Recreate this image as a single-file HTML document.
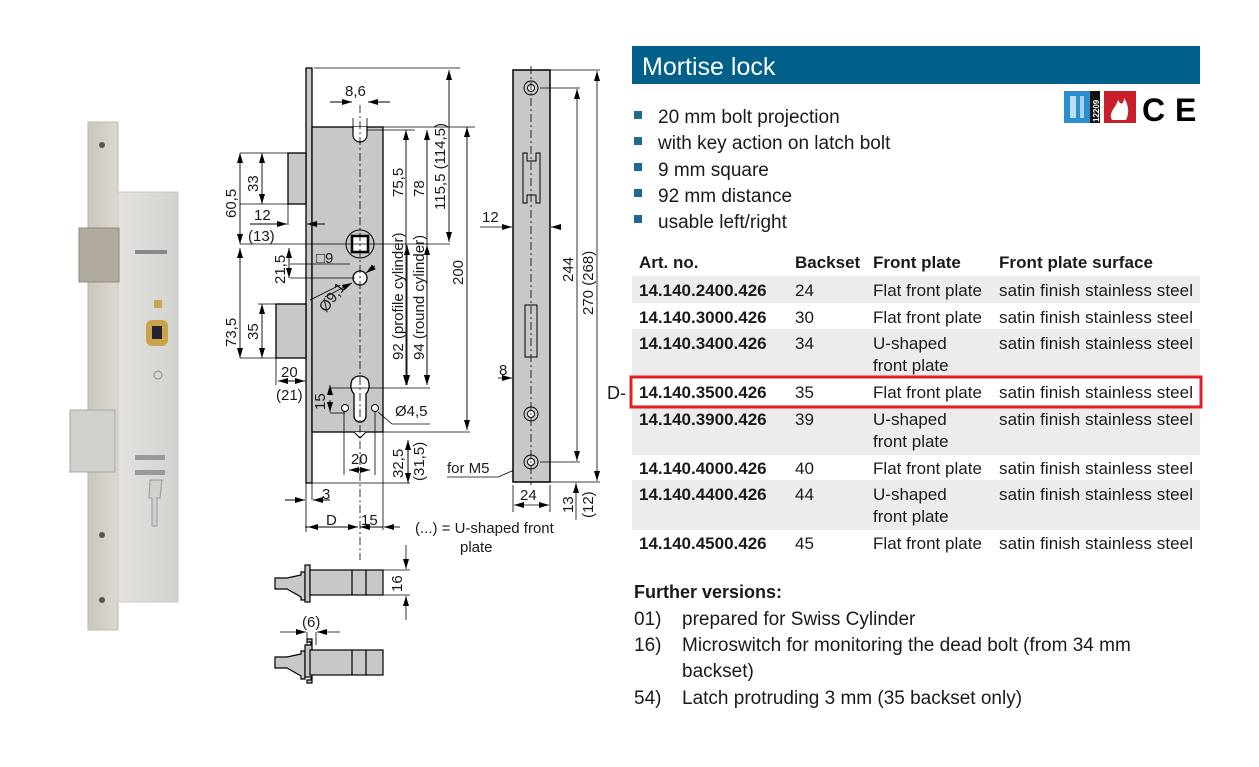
<!DOCTYPE html>
<html><head><meta charset="utf-8"><style>
html,body{margin:0;padding:0;background:#fff;}
svg{display:block;}
text{font-family:"Liberation Sans",sans-serif;fill:#1a1a1a;}
.d{font-size:15px;fill:#111;}
.t{font-size:17px;}
.b{font-weight:bold;}
</style></head><body>
<svg width="1259" height="767" viewBox="0 0 1259 767" xmlns="http://www.w3.org/2000/svg">
<defs>
<marker id="a" viewBox="0 0 10 6" refX="10" refY="3" markerWidth="10" markerHeight="6" orient="auto-start-reverse" markerUnits="userSpaceOnUse"><path d="M0,0L10,3L0,6z" fill="#000"/></marker>
<linearGradient id="pl" x1="0" x2="1"><stop offset="0" stop-color="#c9c6bd"/><stop offset="1" stop-color="#ddd9d0"/></linearGradient>
<linearGradient id="bd" x1="0" x2="1"><stop offset="0" stop-color="#e2e2df"/><stop offset="1" stop-color="#d2d2ce"/></linearGradient>
</defs>
<!-- PHOTO -->
<rect x="88" y="122" width="30" height="508" fill="url(#pl)" stroke="#bcb8ae"/>
<rect x="118" y="192" width="60" height="410" fill="url(#bd)" stroke="#c8c8c4"/>
<rect x="79" y="228" width="40" height="54" fill="#b0ab9e" stroke="#8f8b80"/>
<rect x="70" y="410" width="45" height="62" fill="#d0d0cc" stroke="#a8a8a2"/>
<circle cx="102" cy="145" r="3" fill="#555"/><circle cx="102" cy="535" r="3" fill="#555"/><circle cx="102" cy="600" r="3" fill="#555"/>
<rect x="146" y="320" width="22" height="26" rx="6" fill="#c9a24a"/><rect x="152" y="326" width="10" height="13" fill="#223"/>
<rect x="154" y="300" width="8" height="8" fill="#c9a24a"/>
<rect x="135" y="250" width="32" height="4" fill="#888"/>
<rect x="135" y="455" width="30" height="5" fill="#999"/><rect x="135" y="470" width="30" height="5" fill="#999"/>
<path d="M150,480h12l-2,18h-3v28h-5v-28h-3z" fill="#d0d0cc" stroke="#999"/>
<circle cx="158" cy="375" r="4" fill="none" stroke="#888"/>

<!-- MAIN DRAWING -->
<g stroke="#000" stroke-width="1.3" fill="#c8c8c8">
<rect x="306" y="68" width="6" height="415"/>
<rect x="312" y="127" width="71" height="305"/>
<rect x="288" y="153" width="18" height="51"/>
<rect x="276" y="304" width="30" height="54"/>
</g>
<path d="M353,127v8a7,7 0 0 0 14,0v-8" fill="#fff" stroke="#000" stroke-width="1.2"/>
<circle cx="360" cy="244" r="14" fill="none" stroke="#000"/>
<rect x="352" y="236" width="16" height="16" fill="#fff" stroke="#000" stroke-width="2.5"/>
<circle cx="360" cy="278" r="7" fill="#fff" stroke="#000" stroke-width="1.3"/>
<path d="M352,380a10,10 0 0 1 16,0q3,8 -2,14v22a6,6 0 0 1 -12,0v-22q-5,-6 -2,-14z" fill="#fff" stroke="#000" stroke-width="1.3"/>
<circle cx="345" cy="408" r="3.5" fill="#fff" stroke="#000"/><circle cx="375" cy="408" r="3.5" fill="#fff" stroke="#000"/>
<path d="M354,432l6,6l6,-6" fill="#fff" stroke="#000"/>
<line x1="360" y1="105" x2="360" y2="560" stroke="#000" stroke-dasharray="8,3,2,3" stroke-width="0.8"/>
<g stroke="#000" stroke-width="0.8" fill="none">
<line x1="314" y1="68" x2="460" y2="68"/><line x1="383" y1="127" x2="475" y2="127"/>
<line x1="367" y1="130" x2="415" y2="130"/><line x1="240" y1="153" x2="288" y2="153"/>
<line x1="240" y1="244" x2="450" y2="244"/><line x1="240" y1="358" x2="306" y2="358"/><line x1="258" y1="304" x2="276" y2="304"/>
<line x1="290" y1="278" x2="355" y2="278"/><line x1="240" y1="204" x2="288" y2="204"/>
<line x1="330" y1="388" x2="430" y2="388"/><line x1="330" y1="413" x2="345" y2="413"/>
<line x1="383" y1="432" x2="470" y2="432"/><line x1="312" y1="483" x2="410" y2="483"/>
<line x1="288" y1="204" x2="288" y2="225"/><line x1="276" y1="358" x2="276" y2="385"/>
<line x1="306" y1="483" x2="306" y2="532"/><line x1="312" y1="483" x2="312" y2="500"/>
<line x1="344" y1="412" x2="344" y2="475"/><line x1="375" y1="412" x2="375" y2="475"/>
<line x1="383" y1="432" x2="383" y2="530"/><line x1="353" y1="118" x2="353" y2="127"/><line x1="367" y1="118" x2="367" y2="127"/>
<line x1="290" y1="264" x2="350" y2="264"/>
<line x1="378" y1="412" x2="392" y2="424"/><line x1="392" y1="424" x2="430" y2="424"/>
<line x1="310" y1="300" x2="340" y2="285"/>
</g>
<g stroke="#000" stroke-width="0.9" marker-start="url(#a)" marker-end="url(#a)">
<line x1="240" y1="153" x2="240" y2="244"/><line x1="262" y1="153" x2="262" y2="204"/>
<line x1="240" y1="248" x2="240" y2="358"/><line x1="262" y1="304" x2="262" y2="358"/>
<line x1="289" y1="248" x2="289" y2="278"/>
<line x1="406" y1="130" x2="406" y2="385"/><line x1="427" y1="130" x2="427" y2="385"/>
<line x1="449" y1="70" x2="449" y2="242"/><line x1="467" y1="127" x2="467" y2="430"/>
<line x1="407" y1="245" x2="407" y2="385"/><line x1="427" y1="245" x2="427" y2="385"/>
<line x1="349" y1="470" x2="370" y2="470"/><line x1="278" y1="381" x2="305" y2="381"/>
<line x1="308" y1="527" x2="358" y2="527"/>
</g>
<g stroke="#000" stroke-width="0.9">
<line x1="330" y1="102" x2="352" y2="102" marker-end="url(#a)"/><line x1="390" y1="102" x2="368" y2="102" marker-end="url(#a)"/>
<line x1="250" y1="224" x2="287" y2="224" marker-end="url(#a)"/><line x1="325" y1="224" x2="307" y2="224" marker-end="url(#a)"/>
<line x1="285" y1="500" x2="305" y2="500" marker-end="url(#a)"/><line x1="330" y1="500" x2="313" y2="500" marker-end="url(#a)"/>
<line x1="400" y1="527" x2="384" y2="527" marker-end="url(#a)"/>
<line x1="330" y1="527" x2="305" y2="527"/>
<line x1="330" y1="395" x2="330" y2="385" marker-end="url(#a)"/><line x1="330" y1="400" x2="330" y2="412" marker-end="url(#a)"/>
<line x1="408" y1="483" x2="408" y2="440" marker-end="url(#a)"/><line x1="408" y1="440" x2="408" y2="483" marker-end="url(#a)"/>
<line x1="360" y1="527" x2="383" y2="527" marker-start="url(#a)"/>
<line x1="325" y1="297" x2="352" y2="283" marker-end="url(#a)"/><line x1="375" y1="266" x2="366" y2="273" marker-end="url(#a)"/>
</g>
<g class="d">
<text x="345" y="96">8,6</text>
<text transform="translate(236,218) rotate(-90)">60,5</text>
<text transform="translate(258,192) rotate(-90)">33</text>
<text x="254" y="220">12</text><text x="248" y="241">(13)</text>
<text x="316" y="263">□9</text>
<text transform="translate(285,284) rotate(-90)">21,5</text>
<text transform="translate(236,347) rotate(-90)">73,5</text>
<text transform="translate(258,340) rotate(-90)">35</text>
<text transform="translate(326,313) rotate(-52)">Ø9,1</text>
<text x="281" y="377">20</text><text x="276" y="400">(21)</text>
<text transform="translate(325,410) rotate(-90)">15</text>
<text x="395" y="416">Ø4,5</text>
<text x="351" y="464">20</text>
<text transform="translate(403,478) rotate(-90)">32,5</text>
<text transform="translate(424,481) rotate(-90)">(31,5)</text>
<text x="322" y="499">3</text>
<text x="326" y="525">D</text><text x="361" y="525">15</text>
<text x="415" y="533">(...) = U-shaped front</text>
<text x="460" y="552">plate</text>
<text transform="translate(403,360) rotate(-90)">92  (profile cylinder)</text>
<text transform="translate(424,360) rotate(-90)">94  (round cylinder)</text>
<text transform="translate(403,197) rotate(-90)">75,5</text>
<text transform="translate(424,197) rotate(-90)">78</text>
<text transform="translate(445,210) rotate(-90)">115,5 (114,5)</text>
<text transform="translate(463,285) rotate(-90)">200</text>
<text x="447" y="473">for M5</text>
</g>
<line x1="447" y1="477" x2="498" y2="477" stroke="#000" stroke-width="0.8"/><line x1="498" y1="477" x2="526" y2="465" stroke="#000" stroke-width="0.8"/>

<!-- SIDE PLATE -->
<rect x="513" y="70" width="37" height="412" fill="#c8c8c8" stroke="#000" stroke-width="1.5"/>
<g fill="none" stroke="#000" stroke-width="1">
<path d="M523,153v50h4v-8h9v8h4v-50h-4v8h-9v-8z"/>
<path d="M525,305v52h12v-52z"/>
<circle cx="531" cy="88" r="7"/><circle cx="531" cy="88" r="3.5" fill="#fff"/>
<circle cx="531" cy="414" r="7"/><circle cx="531" cy="414" r="3.5" fill="#fff"/>
<circle cx="531" cy="462" r="7"/><circle cx="531" cy="462" r="3.5" fill="#fff"/>
</g>
<line x1="531" y1="66" x2="531" y2="485" stroke="#000" stroke-dasharray="8,3,2,3" stroke-width="0.8"/>
<g stroke="#000" stroke-width="0.8">
<line x1="550" y1="70" x2="600" y2="70"/><line x1="540" y1="88" x2="580" y2="88"/><line x1="540" y1="462" x2="580" y2="462"/><line x1="550" y1="482" x2="600" y2="482"/>
<line x1="513" y1="485" x2="513" y2="512"/><line x1="550" y1="485" x2="550" y2="512"/>
<line x1="480" y1="227" x2="512" y2="227" marker-end="url(#a)"/><line x1="560" y1="227" x2="551" y2="227" marker-end="url(#a)"/>
<line x1="498" y1="378" x2="512" y2="378" marker-end="url(#a)"/>
<line x1="514" y1="505" x2="549" y2="505" marker-start="url(#a)" marker-end="url(#a)"/>
<line x1="577" y1="89" x2="577" y2="461" marker-start="url(#a)" marker-end="url(#a)"/>
<line x1="597" y1="71" x2="597" y2="481" marker-start="url(#a)" marker-end="url(#a)"/>
<line x1="576" y1="520" x2="576" y2="483" marker-end="url(#a)"/>
</g>
<g class="d">
<text x="482" y="222">12</text><text x="499" y="375">8</text><text x="520" y="500">24</text>
<text transform="translate(573,282) rotate(-90)">244</text>
<text transform="translate(593,315) rotate(-90)">270  (268)</text>
<text transform="translate(573,513) rotate(-90)">13</text>
<text transform="translate(593,518) rotate(-90)">(12)</text>
</g>

<!-- BOLTS -->
<g stroke="#000" stroke-width="1.2" fill="#c8c8c8">
<path d="M275,578h12l14,-3v-3h4v28h-4v-3l-14,-8h-12z"/>
<rect x="305" y="565" width="5" height="37"/>
<rect x="310" y="570" width="73" height="25"/>
<line x1="352" y1="570" x2="352" y2="595"/><line x1="366" y1="570" x2="366" y2="595"/>
<path d="M275,657h12l14,-3v-3h4v28h-4v-3l-14,-8h-12z"/>
<path d="M305,645h6v-3h-4v-3h5v44h-5v-3h4v-3h-6z"/>
<rect x="310" y="650" width="73" height="25"/>
<line x1="352" y1="650" x2="352" y2="675"/><line x1="366" y1="650" x2="366" y2="675"/>
</g>
<g stroke="#000" stroke-width="0.8">
<line x1="383" y1="570" x2="410" y2="570"/><line x1="383" y1="595" x2="410" y2="595"/>
<line x1="406" y1="545" x2="406" y2="569" marker-end="url(#a)"/><line x1="406" y1="620" x2="406" y2="596" marker-end="url(#a)"/>
<line x1="307" y1="632" x2="307" y2="645"/><line x1="316" y1="632" x2="316" y2="645"/>
<line x1="280" y1="632" x2="306" y2="632" marker-end="url(#a)"/><line x1="340" y1="632" x2="317" y2="632" marker-end="url(#a)"/>
</g>
<g class="d"><text transform="translate(402,592) rotate(-90)">16</text><text x="302" y="627">(6)</text></g>

<!-- RIGHT SIDE -->
<rect x="632" y="46" width="568" height="38" fill="#00608a"/>
<text x="642" y="75" style="font-size:25px;fill:#fff">Mortise lock</text>
<rect x="1064" y="91" width="26" height="32" fill="#2a8fcf"/><rect x="1090" y="91" width="10" height="32" fill="#111"/>
<text transform="translate(1099,122) rotate(-90)" style="font-size:8px;fill:#fff;font-weight:bold">12209</text>
<rect x="1070" y="96" width="6" height="22" fill="#fff" opacity=".7"/><rect x="1080" y="96" width="4" height="22" fill="#fff" opacity=".6"/>
<rect x="1104" y="91" width="32" height="32" fill="#c8202a"/>
<path d="M1112,120c-4,-8 4,-12 6,-20c3,6 6,4 6,-2c4,6 6,14 2,22z" fill="#fff"/>
<text x="1142" y="121" style="font-size:32px;font-weight:bold;fill:#000">C</text>
<text x="1175" y="121" style="font-size:32px;font-weight:bold;fill:#000">E</text>
<g fill="#1e6a94">
<rect x="634" y="111" width="8" height="8"/><rect x="634" y="137" width="8" height="8"/><rect x="634" y="163" width="8" height="8"/><rect x="634" y="189" width="8" height="8"/><rect x="634" y="215" width="8" height="8"/>
</g>
<g style="font-size:19px">
<text x="658" y="123">20 mm bolt projection</text>
<text x="658" y="149">with key action on latch bolt</text>
<text x="658" y="176">9 mm square</text>
<text x="658" y="202">92 mm distance</text>
<text x="658" y="228">usable left/right</text>
</g>
<g fill="#ececec">
<rect x="632" y="276" width="568" height="27"/><rect x="632" y="329" width="568" height="48"/>
<rect x="632" y="405" width="568" height="50"/><rect x="632" y="480" width="568" height="50"/>
</g>
<rect x="631" y="377" width="570" height="30" fill="none" stroke="#e31e24" stroke-width="3"/>
<g class="t">
<text class="b" x="639" y="268">Art. no.</text><text class="b" x="795" y="268">Backset</text><text class="b" x="873" y="268">Front plate</text><text class="b" x="999" y="268" textLength="154">Front plate surface</text>
<g class="b"><text x="639" y="296">14.140.2400.426</text><text x="639" y="323">14.140.3000.426</text><text x="639" y="349">14.140.3400.426</text><text x="639" y="398">14.140.3500.426</text><text x="639" y="425">14.140.3900.426</text><text x="639" y="474">14.140.4000.426</text><text x="639" y="500">14.140.4400.426</text><text x="639" y="549">14.140.4500.426</text></g>
<text x="795" y="296">24</text><text x="795" y="323">30</text><text x="795" y="349">34</text><text x="795" y="398">35</text><text x="795" y="425">39</text><text x="795" y="474">40</text><text x="795" y="500">44</text><text x="795" y="549">45</text>
<text x="873" y="296" textLength="109">Flat front plate</text><text x="873" y="323" textLength="109">Flat front plate</text><text x="873" y="349">U-shaped</text><text x="873" y="371">front plate</text><text x="873" y="398" textLength="109">Flat front plate</text><text x="873" y="425">U-shaped</text><text x="873" y="447">front plate</text><text x="873" y="474" textLength="109">Flat front plate</text><text x="873" y="500">U-shaped</text><text x="873" y="522">front plate</text><text x="873" y="549" textLength="109">Flat front plate</text>
<g><text x="999" y="296" textLength="194">satin finish stainless steel</text><text x="999" y="323" textLength="194">satin finish stainless steel</text><text x="999" y="349" textLength="194">satin finish stainless steel</text><text x="999" y="398" textLength="194">satin finish stainless steel</text><text x="999" y="425" textLength="194">satin finish stainless steel</text><text x="999" y="474" textLength="194">satin finish stainless steel</text><text x="999" y="500" textLength="194">satin finish stainless steel</text><text x="999" y="549" textLength="194">satin finish stainless steel</text></g>
<text x="607" y="399" style="font-size:18px">D-</text>
</g>
<g style="font-size:19px">
<text x="634" y="598" class="b" style="font-size:18px">Further versions:</text>
<text x="634" y="625">01)</text><text x="682" y="625">prepared for Swiss Cylinder</text>
<text x="634" y="651">16)</text><text x="682" y="651">Microswitch for monitoring the dead bolt (from 34 mm</text>
<text x="682" y="677">backset)</text>
<text x="634" y="704">54)</text><text x="682" y="704">Latch protruding 3 mm (35 backset only)</text>
</g>
</svg>
</body></html>
